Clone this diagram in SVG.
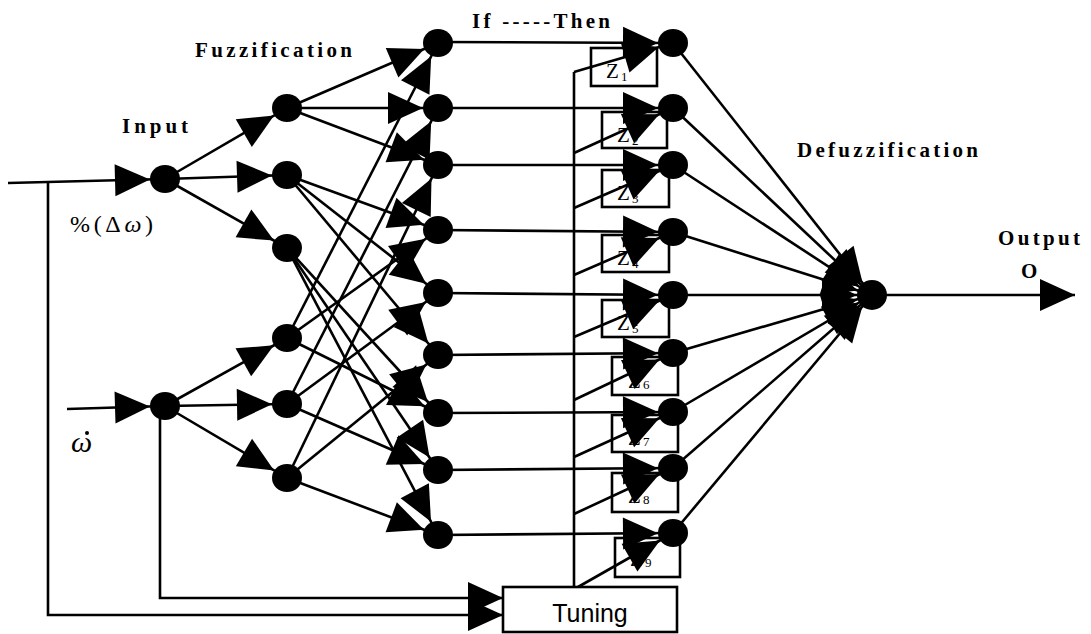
<svg xmlns="http://www.w3.org/2000/svg" width="1091" height="634" viewBox="0 0 1091 634">
  <style>
    .w { fill: none; stroke: #000; stroke-width: 2.6; }
    .a { marker-end: url(#ah); }
    .ae { marker-end: url(#ahEnd); }
    .n { fill: #000; }
    .box { fill: #fff; stroke: #000; stroke-width: 2.6; }
    .lbl { font-family: "Liberation Serif", "DejaVu Serif", serif; font-weight: bold; font-size: 21px; fill: #000; }
    .z { font-family: "Liberation Serif", "DejaVu Serif", serif; font-size: 21px; fill: #000; }
    .zs { font-family: "Liberation Serif", "DejaVu Serif", serif; font-size: 13px; fill: #000; }
  </style>
  <defs>
    <!-- arrowhead whose tip stops at the rim of a node (radius 15) -->
    <marker id="ah" markerUnits="userSpaceOnUse" markerWidth="60" markerHeight="40" refX="15" refY="0" orient="auto" overflow="visible" viewBox="-40 -20 60 40">
      <path d="M-35,-16 L0,0 L-35,16 z" fill="#000"/>
    </marker>
    <!-- arrowhead whose tip sits on the line end -->
    <marker id="ahEnd" markerUnits="userSpaceOnUse" markerWidth="60" markerHeight="40" refX="0" refY="0" orient="auto" overflow="visible" viewBox="-40 -20 60 40">
      <path d="M-35,-16 L0,0 L-35,16 z" fill="#000"/>
    </marker>
  </defs>

  <rect width="1091" height="634" fill="#fff"/>

  <!-- rule consequent boxes (drawn first so the arrows lie over them) -->
  <g id="consequents">
    <g id="z1"><rect class="box" x="591" y="48" width="66" height="38"/><text class="z" x="606" y="78">Z</text><text class="zs" x="621" y="81">1</text></g>
    <g id="z2"><rect class="box" x="602" y="112" width="65" height="36"/><text class="z" x="617" y="142">Z</text><text class="zs" x="632" y="145">2</text></g>
    <g id="z3"><rect class="box" x="602" y="170" width="67" height="37"/><text class="z" x="617" y="200">Z</text><text class="zs" x="632" y="203">3</text></g>
    <g id="z4"><rect class="box" x="602" y="235" width="67" height="37"/><text class="z" x="617" y="265">Z</text><text class="zs" x="632" y="268">4</text></g>
    <g id="z5"><rect class="box" x="602" y="300" width="67" height="37"/><text class="z" x="617" y="330">Z</text><text class="zs" x="632" y="333">5</text></g>
    <g id="z6"><rect class="box" x="612" y="357" width="66" height="38"/><text class="z" x="628" y="388">Z</text><text class="zs" x="643" y="389">6</text></g>
    <g id="z7"><rect class="box" x="612" y="415" width="66" height="37"/><text class="z" x="628" y="445">Z</text><text class="zs" x="643" y="446">7</text></g>
    <g id="z8"><rect class="box" x="612" y="473" width="66" height="39"/><text class="z" x="628" y="503">Z</text><text class="zs" x="643" y="504">8</text></g>
    <g id="z9"><rect class="box" x="615" y="538" width="65" height="39"/><text class="z" x="630" y="566">Z</text><text class="zs" x="645" y="567">9</text></g>
  </g>

  <g id="connectors">
    <!-- inputs -->
    <line class="w a" x1="8" y1="183" x2="165" y2="179"/>
    <line class="w a" x1="67" y1="409" x2="165" y2="406"/>
    <!-- feedback paths into the tuning block -->
    <polyline class="w ae" points="48,183 48,615 503,615"/>
    <polyline class="w ae" points="160,406 160,598 503,598"/>

    <!-- input layer to fuzzification layer -->
    <line class="w a" x1="165" y1="179" x2="287" y2="108"/>
    <line class="w a" x1="165" y1="179" x2="287" y2="175"/>
    <line class="w a" x1="165" y1="179" x2="287" y2="248"/>
    <line class="w a" x1="165" y1="406" x2="287" y2="338"/>
    <line class="w a" x1="165" y1="406" x2="287" y2="404"/>
    <line class="w a" x1="165" y1="406" x2="287" y2="478"/>

    <!-- fuzzification layer to rule layer -->
    <line class="w a" x1="287" y1="108" x2="438" y2="43"/>
    <line class="w a" x1="287" y1="108" x2="438" y2="108"/>
    <line class="w a" x1="287" y1="108" x2="438" y2="165"/>
    <line class="w a" x1="287" y1="175" x2="438" y2="230"/>
    <line class="w a" x1="287" y1="175" x2="438" y2="293"/>
    <line class="w a" x1="287" y1="175" x2="438" y2="355"/>
    <line class="w a" x1="287" y1="248" x2="438" y2="413"/>
    <line class="w a" x1="287" y1="248" x2="438" y2="470"/>
    <line class="w a" x1="287" y1="248" x2="438" y2="535"/>
    <line class="w a" x1="287" y1="338" x2="438" y2="43"/>
    <line class="w a" x1="287" y1="338" x2="438" y2="230"/>
    <line class="w a" x1="287" y1="338" x2="438" y2="413"/>
    <line class="w a" x1="287" y1="404" x2="438" y2="108"/>
    <line class="w a" x1="287" y1="404" x2="438" y2="293"/>
    <line class="w a" x1="287" y1="404" x2="438" y2="470"/>
    <line class="w a" x1="287" y1="478" x2="438" y2="165"/>
    <line class="w a" x1="287" y1="478" x2="438" y2="355"/>
    <line class="w a" x1="287" y1="478" x2="438" y2="535"/>

    <!-- tuning bus -->
    <line class="w" x1="574" y1="72" x2="574" y2="587"/>

    <!-- rule layer to consequent layer -->
    <line class="w a" x1="438" y1="42" x2="673" y2="43"/>
    <line class="w a" x1="438" y1="108" x2="673" y2="108"/>
    <line class="w a" x1="438" y1="165" x2="673" y2="165"/>
    <line class="w a" x1="438" y1="230" x2="673" y2="232"/>
    <line class="w a" x1="438" y1="293" x2="673" y2="295"/>
    <line class="w a" x1="438" y1="355" x2="673" y2="353"/>
    <line class="w a" x1="438" y1="413" x2="673" y2="412"/>
    <line class="w a" x1="438" y1="470" x2="673" y2="468"/>
    <line class="w a" x1="438" y1="535" x2="673" y2="533"/>

    <!-- tuning bus to consequent layer -->
    <line class="w a" x1="574" y1="72" x2="673" y2="43"/>
    <line class="w a" x1="574" y1="153" x2="673" y2="108"/>
    <line class="w a" x1="574" y1="208" x2="673" y2="165"/>
    <line class="w a" x1="574" y1="275" x2="673" y2="232"/>
    <line class="w a" x1="574" y1="337" x2="673" y2="295"/>
    <line class="w a" x1="574" y1="400" x2="673" y2="353"/>
    <line class="w a" x1="574" y1="457" x2="673" y2="412"/>
    <line class="w a" x1="574" y1="514" x2="673" y2="468"/>
    <line class="w a" x1="578" y1="587" x2="673" y2="533"/>

    <!-- consequent layer to defuzzification node -->
    <line class="w a" x1="673" y1="43" x2="872" y2="295"/>
    <line class="w a" x1="673" y1="108" x2="872" y2="295"/>
    <line class="w a" x1="673" y1="165" x2="872" y2="295"/>
    <line class="w a" x1="673" y1="232" x2="872" y2="295"/>
    <line class="w a" x1="673" y1="295" x2="872" y2="295"/>
    <line class="w a" x1="673" y1="353" x2="872" y2="295"/>
    <line class="w a" x1="673" y1="412" x2="872" y2="295"/>
    <line class="w a" x1="673" y1="468" x2="872" y2="295"/>
    <line class="w a" x1="673" y1="533" x2="872" y2="295"/>

    <!-- output -->
    <line class="w ae" x1="872" y1="295" x2="1075" y2="295"/>
  </g>

  <g id="input-nodes">
    <ellipse id="in1" class="n" cx="165" cy="179" rx="15" ry="14"/>
    <ellipse id="in2" class="n" cx="165" cy="406" rx="15" ry="14"/>
  </g>
  <g id="fuzz-nodes">
    <ellipse id="f1" class="n" cx="287" cy="108" rx="15" ry="14"/>
    <ellipse id="f2" class="n" cx="287" cy="175" rx="15" ry="14"/>
    <ellipse id="f3" class="n" cx="287" cy="248" rx="15" ry="14"/>
    <ellipse id="f4" class="n" cx="287" cy="338" rx="15" ry="14"/>
    <ellipse id="f5" class="n" cx="287" cy="404" rx="15" ry="14"/>
    <ellipse id="f6" class="n" cx="287" cy="478" rx="15" ry="14"/>
  </g>
  <g id="rule-nodes">
    <ellipse id="r1" class="n" cx="438" cy="43" rx="15" ry="14"/>
    <ellipse id="r2" class="n" cx="438" cy="108" rx="15" ry="14"/>
    <ellipse id="r3" class="n" cx="438" cy="165" rx="15" ry="14"/>
    <ellipse id="r4" class="n" cx="438" cy="230" rx="15" ry="14"/>
    <ellipse id="r5" class="n" cx="438" cy="293" rx="15" ry="14"/>
    <ellipse id="r6" class="n" cx="438" cy="355" rx="15" ry="14"/>
    <ellipse id="r7" class="n" cx="438" cy="413" rx="15" ry="14"/>
    <ellipse id="r8" class="n" cx="438" cy="470" rx="15" ry="14"/>
    <ellipse id="r9" class="n" cx="438" cy="535" rx="15" ry="14"/>
  </g>
  <g id="consequent-nodes">
    <ellipse id="c1" class="n" cx="673" cy="43" rx="15" ry="14"/>
    <ellipse id="c2" class="n" cx="673" cy="108" rx="15" ry="14"/>
    <ellipse id="c3" class="n" cx="673" cy="165" rx="15" ry="14"/>
    <ellipse id="c4" class="n" cx="673" cy="232" rx="15" ry="14"/>
    <ellipse id="c5" class="n" cx="673" cy="295" rx="15" ry="14"/>
    <ellipse id="c6" class="n" cx="673" cy="353" rx="15" ry="14"/>
    <ellipse id="c7" class="n" cx="673" cy="412" rx="15" ry="14"/>
    <ellipse id="c8" class="n" cx="673" cy="468" rx="15" ry="14"/>
    <ellipse id="c9" class="n" cx="673" cy="533" rx="15" ry="14"/>
  </g>
  <g id="defuzz-node">
    <ellipse class="n" cx="872" cy="295" rx="15" ry="15"/>
  </g>

  <g id="tuning">
    <rect class="box" x="503" y="587" width="174" height="45" stroke-width="1.5"/>
    <text x="590" y="622" text-anchor="middle" font-family="Liberation Sans, Arial, sans-serif" font-size="25" fill="#000">Tuning</text>
  </g>

  <g id="labels">
    <text class="lbl" x="122" y="133" textLength="66" lengthAdjust="spacing">Input</text>
    <text class="lbl" x="195" y="57" textLength="157" lengthAdjust="spacing">Fuzzification</text>
    <text class="lbl" x="472" y="28" textLength="138" lengthAdjust="spacing">If -----Then</text>
    <text class="lbl" x="797" y="157" textLength="181" lengthAdjust="spacing">Defuzzification</text>
    <text class="lbl" x="998" y="245" textLength="82" lengthAdjust="spacing">Output</text>
    <text class="lbl" x="1021" y="278" font-size="17">O</text>
    <text x="70" y="232" font-family="Liberation Serif, serif" font-size="24" fill="#000" textLength="83" lengthAdjust="spacing">%(Δ<tspan font-style="italic">ω</tspan>)</text>
    <!-- omega with its time-derivative dot -->
    <text x="71" y="452" font-family="Liberation Serif, serif" font-style="italic" font-size="30" fill="#000">ω</text>
    <circle cx="87" cy="433" r="2"/>
  </g>
</svg>
